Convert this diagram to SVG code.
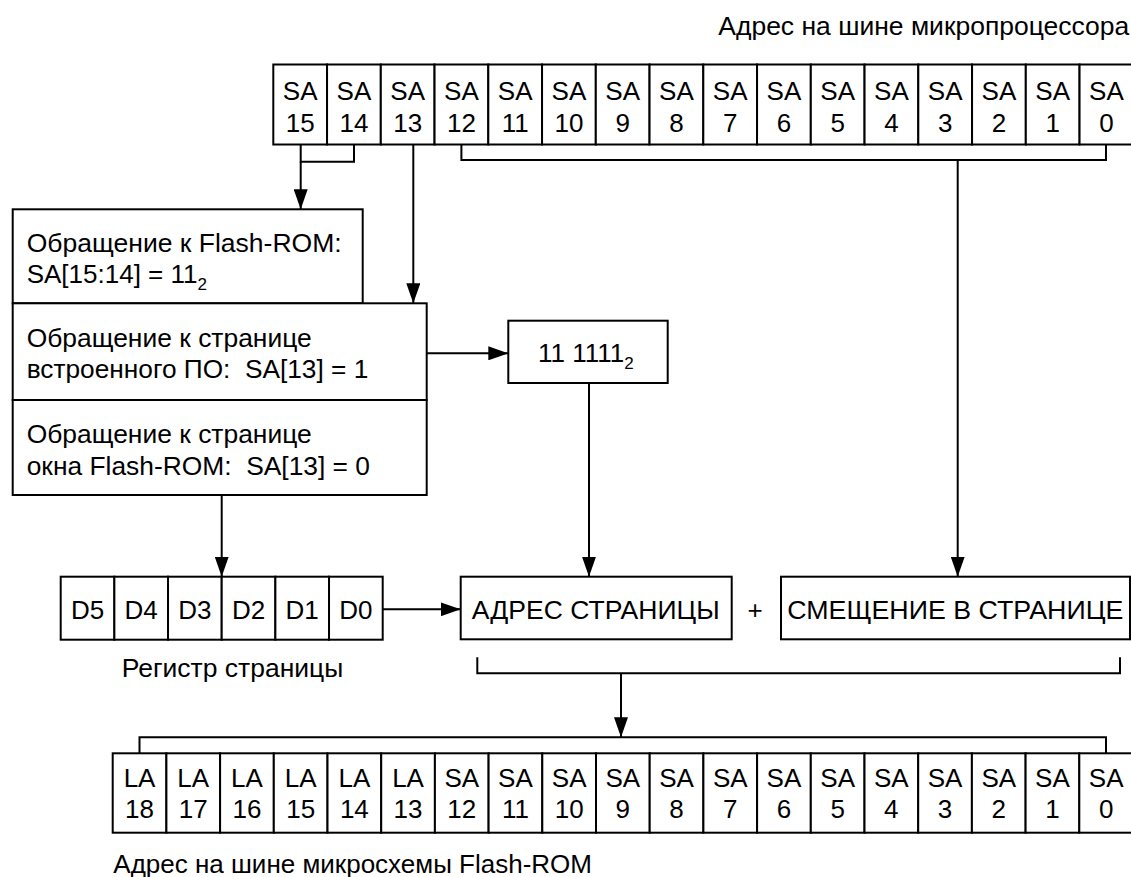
<svg xmlns="http://www.w3.org/2000/svg" width="1131" height="877" viewBox="0 0 1131 877">
  <style>
    text { font-family: "Liberation Sans", Arial, sans-serif; font-size: 26px; fill: #000; }
    .c { text-anchor: middle; }
    .box { fill: #fff; stroke: #000; stroke-width: 2; }
    .ln { fill: none; stroke: #000; stroke-width: 2; }
    .sub { font-size: 17px; }
  </style>
  <defs>
    <marker id="arrow" markerUnits="userSpaceOnUse" markerWidth="20" markerHeight="14" refX="20" refY="7" orient="auto">
      <path d="M0,0 L20,7 L0,14 z" fill="#000"/>
    </marker>
  </defs>

  <!-- CPU address bus SA15..SA0 -->
  <g id="cpu-bus">
    <text x="1129.3" y="35" text-anchor="end" textLength="411" lengthAdjust="spacingAndGlyphs">Адрес на шине микропроцессора</text>
    <g class="cells">
      <rect class="box" x="273.3" y="64.5" width="53.75" height="80"/>
      <rect class="box" x="327.05" y="64.5" width="53.75" height="80"/>
      <rect class="box" x="380.8" y="64.5" width="53.75" height="80"/>
      <rect class="box" x="434.55" y="64.5" width="53.75" height="80"/>
      <rect class="box" x="488.3" y="64.5" width="53.75" height="80"/>
      <rect class="box" x="542.05" y="64.5" width="53.75" height="80"/>
      <rect class="box" x="595.8" y="64.5" width="53.75" height="80"/>
      <rect class="box" x="649.55" y="64.5" width="53.75" height="80"/>
      <rect class="box" x="703.3" y="64.5" width="53.75" height="80"/>
      <rect class="box" x="757.05" y="64.5" width="53.75" height="80"/>
      <rect class="box" x="810.8" y="64.5" width="53.75" height="80"/>
      <rect class="box" x="864.55" y="64.5" width="53.75" height="80"/>
      <rect class="box" x="918.3" y="64.5" width="53.75" height="80"/>
      <rect class="box" x="972.05" y="64.5" width="53.75" height="80"/>
      <rect class="box" x="1025.8" y="64.5" width="53.75" height="80"/>
      <rect class="box" x="1079.55" y="64.5" width="53.75" height="80"/>
    </g>
    <g class="c">
      <text x="300.2" y="100">SA</text><text x="300.2" y="132">15</text>
      <text x="353.9" y="100">SA</text><text x="353.9" y="132">14</text>
      <text x="407.7" y="100">SA</text><text x="407.7" y="132">13</text>
      <text x="461.4" y="100">SA</text><text x="461.4" y="132">12</text>
      <text x="515.2" y="100">SA</text><text x="515.2" y="132">11</text>
      <text x="568.9" y="100">SA</text><text x="568.9" y="132">10</text>
      <text x="622.7" y="100">SA</text><text x="622.7" y="132">9</text>
      <text x="676.4" y="100">SA</text><text x="676.4" y="132">8</text>
      <text x="730.2" y="100">SA</text><text x="730.2" y="132">7</text>
      <text x="783.9" y="100">SA</text><text x="783.9" y="132">6</text>
      <text x="837.7" y="100">SA</text><text x="837.7" y="132">5</text>
      <text x="891.4" y="100">SA</text><text x="891.4" y="132">4</text>
      <text x="945.2" y="100">SA</text><text x="945.2" y="132">3</text>
      <text x="998.9" y="100">SA</text><text x="998.9" y="132">2</text>
      <text x="1052.7" y="100">SA</text><text x="1052.7" y="132">1</text>
      <text x="1106.4" y="100">SA</text><text x="1106.4" y="132">0</text>
    </g>
  </g>

  <!-- Decoder condition boxes -->
  <g id="flash-access">
    <rect class="box" x="12.7" y="209.3" width="350" height="94"/>
    <text x="26.7" y="251.5" textLength="315" lengthAdjust="spacingAndGlyphs">Обращение к Flash-ROM:</text>
    <text x="26.7" y="283">SA[15:14] = 11<tspan class="sub" dy="7">2</tspan></text>
  </g>
  <g id="firmware-page">
    <rect class="box" x="12.7" y="303.3" width="414" height="96.7"/>
    <text x="26.7" y="346.5" textLength="285" lengthAdjust="spacingAndGlyphs">Обращение к странице</text>
    <text x="26.7" y="378.3" xml:space="preserve" textLength="341.6" lengthAdjust="spacingAndGlyphs">встроенного ПО:  SA[13] = 1</text>
  </g>
  <g id="window-page">
    <rect class="box" x="12.7" y="400" width="414" height="95"/>
    <text x="26.7" y="443.3" textLength="285" lengthAdjust="spacingAndGlyphs">Обращение к странице</text>
    <text x="26.7" y="475" xml:space="preserve" textLength="343.3" lengthAdjust="spacingAndGlyphs">окна Flash-ROM:  SA[13] = 0</text>
  </g>

  <!-- Fixed firmware page number -->
  <g id="fixed-page">
    <rect class="box" x="508.3" y="320.7" width="159.4" height="62.3"/>
    <text x="538" y="361.7">11 1111<tspan class="sub" dy="7">2</tspan></text>
  </g>

  <!-- Page register D5..D0 -->
  <g id="page-register">
    <rect class="box" x="60.7" y="576.7" width="53.67" height="63"/>
    <rect class="box" x="114.37" y="576.7" width="53.67" height="63"/>
    <rect class="box" x="168.03" y="576.7" width="53.67" height="63"/>
    <rect class="box" x="221.7" y="576.7" width="53.67" height="63"/>
    <rect class="box" x="275.37" y="576.7" width="53.67" height="63"/>
    <rect class="box" x="329.03" y="576.7" width="53.67" height="63"/>
    <g class="c">
      <text x="87.5" y="619">D5</text>
      <text x="141.2" y="619">D4</text>
      <text x="194.9" y="619">D3</text>
      <text x="248.5" y="619">D2</text>
      <text x="302.2" y="619">D1</text>
      <text x="355.9" y="619">D0</text>
    </g>
    <text x="121.7" y="677.3" textLength="221.6" lengthAdjust="spacingAndGlyphs">Регистр страницы</text>
  </g>

  <!-- Page address + offset -->
  <g id="page-address">
    <rect class="box" x="460.7" y="576.7" width="271" height="62.6"/>
    <text x="471.7" y="619.3" font-size="27" textLength="248" lengthAdjust="spacingAndGlyphs">АДРЕС СТРАНИЦЫ</text>
  </g>
  <g id="plus">
    <text class="c" x="755" y="619.3">+</text>
  </g>
  <g id="page-offset">
    <rect class="box" x="781" y="576.7" width="349" height="62.6"/>
    <text x="787.3" y="619.3" font-size="27" textLength="336" lengthAdjust="spacingAndGlyphs">СМЕЩЕНИЕ В СТРАНИЦЕ</text>
  </g>

  <!-- Flash-ROM address bus LA18..LA13, SA12..SA0 -->
  <g id="flash-bus">
    <g class="cells">
      <rect class="box" x="112.7" y="753.3" width="53.7" height="79.4"/>
      <rect class="box" x="166.4" y="753.3" width="53.7" height="79.4"/>
      <rect class="box" x="220.1" y="753.3" width="53.7" height="79.4"/>
      <rect class="box" x="273.8" y="753.3" width="53.7" height="79.4"/>
      <rect class="box" x="327.5" y="753.3" width="53.7" height="79.4"/>
      <rect class="box" x="381.2" y="753.3" width="53.7" height="79.4"/>
      <rect class="box" x="434.9" y="753.3" width="53.7" height="79.4"/>
      <rect class="box" x="488.6" y="753.3" width="53.7" height="79.4"/>
      <rect class="box" x="542.3" y="753.3" width="53.7" height="79.4"/>
      <rect class="box" x="596" y="753.3" width="53.7" height="79.4"/>
      <rect class="box" x="649.7" y="753.3" width="53.7" height="79.4"/>
      <rect class="box" x="703.4" y="753.3" width="53.7" height="79.4"/>
      <rect class="box" x="757.1" y="753.3" width="53.7" height="79.4"/>
      <rect class="box" x="810.8" y="753.3" width="53.7" height="79.4"/>
      <rect class="box" x="864.5" y="753.3" width="53.7" height="79.4"/>
      <rect class="box" x="918.2" y="753.3" width="53.7" height="79.4"/>
      <rect class="box" x="971.9" y="753.3" width="53.7" height="79.4"/>
      <rect class="box" x="1025.6" y="753.3" width="53.7" height="79.4"/>
      <rect class="box" x="1079.3" y="753.3" width="53.7" height="79.4"/>
    </g>
    <g class="c">
      <text x="139.55" y="786.7">LA</text><text x="139.55" y="818.3">18</text>
      <text x="193.25" y="786.7">LA</text><text x="193.25" y="818.3">17</text>
      <text x="246.95" y="786.7">LA</text><text x="246.95" y="818.3">16</text>
      <text x="300.65" y="786.7">LA</text><text x="300.65" y="818.3">15</text>
      <text x="354.35" y="786.7">LA</text><text x="354.35" y="818.3">14</text>
      <text x="408.05" y="786.7">LA</text><text x="408.05" y="818.3">13</text>
      <text x="461.75" y="786.7">SA</text><text x="461.75" y="818.3">12</text>
      <text x="515.45" y="786.7">SA</text><text x="515.45" y="818.3">11</text>
      <text x="569.15" y="786.7">SA</text><text x="569.15" y="818.3">10</text>
      <text x="622.85" y="786.7">SA</text><text x="622.85" y="818.3">9</text>
      <text x="676.55" y="786.7">SA</text><text x="676.55" y="818.3">8</text>
      <text x="730.25" y="786.7">SA</text><text x="730.25" y="818.3">7</text>
      <text x="783.95" y="786.7">SA</text><text x="783.95" y="818.3">6</text>
      <text x="837.65" y="786.7">SA</text><text x="837.65" y="818.3">5</text>
      <text x="891.35" y="786.7">SA</text><text x="891.35" y="818.3">4</text>
      <text x="945.05" y="786.7">SA</text><text x="945.05" y="818.3">3</text>
      <text x="998.75" y="786.7">SA</text><text x="998.75" y="818.3">2</text>
      <text x="1052.45" y="786.7">SA</text><text x="1052.45" y="818.3">1</text>
      <text x="1106.15" y="786.7">SA</text><text x="1106.15" y="818.3">0</text>
    </g>
    <text x="113.3" y="873">Адрес на шине микросхемы Flash-ROM</text>
  </g>

  <!-- Connectors and brackets -->
  <g id="connectors" class="ln">
    <!-- SA15,SA14 -> Flash-ROM access -->
    <path d="M354,144.5 V161.7 H300.7 V144.5"/>
    <path d="M300.7,161.7 V209.3" marker-end="url(#arrow)"/>
    <!-- SA13 -> page select -->
    <path d="M413.3,144.5 V303.3" marker-end="url(#arrow)"/>
    <!-- SA12..SA0 -> offset -->
    <path d="M461.4,144.5 V160 H1106 V144.5"/>
    <path d="M957.7,160 V576.7" marker-end="url(#arrow)"/>
    <!-- firmware page -> fixed page number -->
    <path d="M426.7,353.3 H508.3" marker-end="url(#arrow)"/>
    <!-- fixed page number -> page address -->
    <path d="M589,383 V576.7" marker-end="url(#arrow)"/>
    <!-- window page -> page register -->
    <path d="M221.7,495 V576.7" marker-end="url(#arrow)"/>
    <!-- page register -> page address -->
    <path d="M382.7,609.3 H460.7" marker-end="url(#arrow)"/>
    <!-- address + offset -> Flash-ROM bus -->
    <path d="M477.3,657.3 V673.3 H1120 V657.3"/>
    <path d="M621,673.3 V737.3" marker-end="url(#arrow)"/>
    <path d="M139.5,753.3 V737.3 H1106 V753.3"/>
  </g>
</svg>
